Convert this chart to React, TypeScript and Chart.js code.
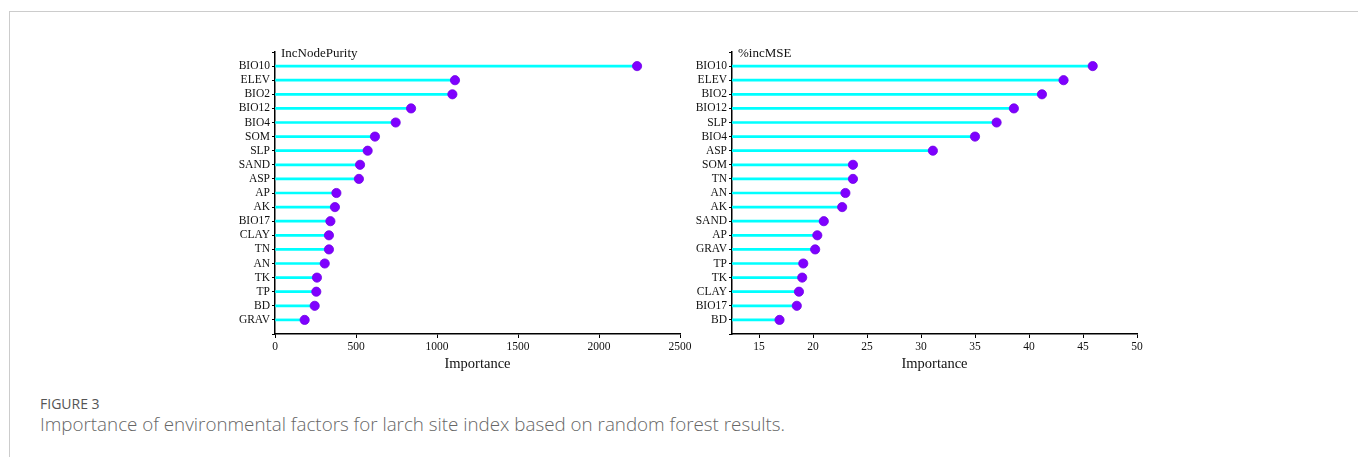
import React, { useEffect, useRef } from "react";
import { Chart, registerables } from "chart.js";

Chart.register(...registerables);

const LEFT_LABELS = ["BIO10", "ELEV", "BIO2", "BIO12", "BIO4", "SOM", "SLP", "SAND", "ASP", "AP", "AK", "BIO17", "CLAY", "TN", "AN", "TK", "TP", "BD", "GRAV"];
const LEFT_VALUES = [2235, 1111, 1095, 840, 745, 617, 572, 525, 518, 379, 370, 342, 333, 333, 307, 259, 255, 245, 183];
const LEFT_TICKS = [0, 500, 1000, 1500, 2000, 2500];

const RIGHT_LABELS = ["BIO10", "ELEV", "BIO2", "BIO12", "SLP", "BIO4", "ASP", "SOM", "TN", "AN", "AK", "SAND", "AP", "GRAV", "TP", "TK", "CLAY", "BIO17", "BD"];
const RIGHT_VALUES = [45.9, 43.2, 41.2, 38.6, 37.0, 35.0, 31.1, 23.7, 23.7, 23.0, 22.7, 21.0, 20.4, 20.2, 19.1, 19.0, 18.7, 18.5, 16.9];
const RIGHT_TICKS = [15, 20, 25, 30, 35, 40, 45, 50];

const SERIF = '"Liberation Serif", "Times New Roman", serif';

type Props = {
  labels: string[];
  values: number[];
  xMin: number;
  xMax: number;
  xTicks: number[];
  title: string;
  left: number;
};

function Lollipop({ labels, values, xMin, xMax, xTicks, title, left }: Props) {
  const ref = useRef<HTMLCanvasElement | null>(null);
  useEffect(() => {
    const n = labels.length;
    const tickFont = { family: SERIF, size: 11.5 };
    const titlePlugin = {
      id: "cornerTitle",
      afterDraw(chart: any) {
        const { ctx, chartArea } = chart;
        ctx.save();
        ctx.font = `13px ${SERIF}`;
        ctx.fillStyle = "#111";
        ctx.textBaseline = "alphabetic";
        ctx.textAlign = "left";
        ctx.fillText(title, chartArea.left + 6, chartArea.top + 4.5);
        ctx.restore();
      },
    };
    const chart = new Chart(ref.current as HTMLCanvasElement, {
      type: "scatter",
      data: {
        datasets: [
          {
            type: "scatter",
            data: values.map((v, i) => ({ x: v, y: i })),
            pointRadius: 4.6,
            pointHoverRadius: 4.6,
            backgroundColor: "#7f00ff",
            borderColor: "#7000e6",
            borderWidth: 0.8,
            order: 0,
            clip: false,
          } as any,
          {
            type: "bar",
            indexAxis: "y",
            data: values.map((v, i) => ({ x: [xMin, v], y: i })),
            backgroundColor: "#00ffff",
            barThickness: 2,
            order: 1,
          } as any,
        ],
      },
      options: {
        animation: false,
        responsive: false,
        maintainAspectRatio: false,
        layout: { padding: { top: 22, right: 20, left: 0, bottom: 0 } },
        plugins: { legend: { display: false }, tooltip: { enabled: false } },
        scales: {
          x: {
            type: "linear",
            offset: false,
            beginAtZero: false,
            min: xMin,
            max: xMax,
            afterBuildTicks: (s: any) => {
              s.ticks = xTicks.map((v) => ({ value: v }));
            },
            afterFit: (s: any) => {
              s.height = 43;
            },
            ticks: {
              font: tickFont,
              color: "#111",
              padding: 2,
              maxRotation: 0,
              autoSkip: false,
              callback: (v: any) => String(v),
            },
            grid: { drawOnChartArea: false, tickLength: 4, color: "#000", offset: false },
            border: { color: "#000", width: 1.5 },
            title: {
              display: true,
              text: "Importance",
              font: { family: SERIF, size: 14.5 },
              color: "#111",
              padding: { top: 4, bottom: 4 },
            },
          },
          y: {
            type: "linear",
            offset: false,
            reverse: true,
            min: -1,
            max: n,
            afterBuildTicks: (s: any) => {
              s.ticks = Array.from({ length: n + 2 }, (_, k) => ({ value: k - 1 }));
            },
            afterFit: (s: any) => {
              s.width = 75;
            },
            ticks: {
              font: tickFont,
              color: "#111",
              padding: 2,
              autoSkip: false,
              callback: (v: any) => labels[v] ?? "",
            },
            grid: { drawOnChartArea: false, tickLength: 3, color: "#000", offset: false },
            border: { color: "#000", width: 1.5 },
          },
        } as any,
      },
      plugins: [titlePlugin],
    });
    return () => chart.destroy();
  }, []);
  return (
    <canvas
      ref={ref}
      width={500}
      height={347}
      style={{ position: "absolute", left, top: 30, width: 500, height: 347 }}
    />
  );
}

export default function App() {
  return (
    <div
      style={{
        position: "absolute",
        left: 0,
        top: 0,
        width: 1358,
        height: 457,
        background: "#fff",
        overflow: "hidden",
      }}
    >
      <div
        style={{
          position: "absolute",
          left: 9,
          top: 11,
          width: 1360,
          height: 460,
          borderTop: "1px solid #cccccc",
          borderLeft: "1px solid #cccccc",
        }}
      />
      <Lollipop labels={LEFT_LABELS} values={LEFT_VALUES} xMin={0} xMax={2500} xTicks={LEFT_TICKS} title="IncNodePurity" left={200} />
      <Lollipop labels={RIGHT_LABELS} values={RIGHT_VALUES} xMin={12.5} xMax={50} xTicks={RIGHT_TICKS} title="%incMSE" left={657} />
      <div
        style={{
          position: "absolute",
          left: 40,
          top: 394,
          fontFamily: '"Open Sans", sans-serif',
          fontSize: 14,
          color: "#555",
          whiteSpace: "nowrap",
        }}
      >
        FIGURE 3
      </div>
      <div
        style={{
          position: "absolute",
          left: 40,
          top: 411,
          fontFamily: '"Open Sans", sans-serif',
          fontWeight: 300,
          fontSize: 18.8,
          color: "#666",
          whiteSpace: "nowrap",
        }}
      >
        Importance of environmental factors for larch site index based on random forest results.
      </div>
    </div>
  );
}
